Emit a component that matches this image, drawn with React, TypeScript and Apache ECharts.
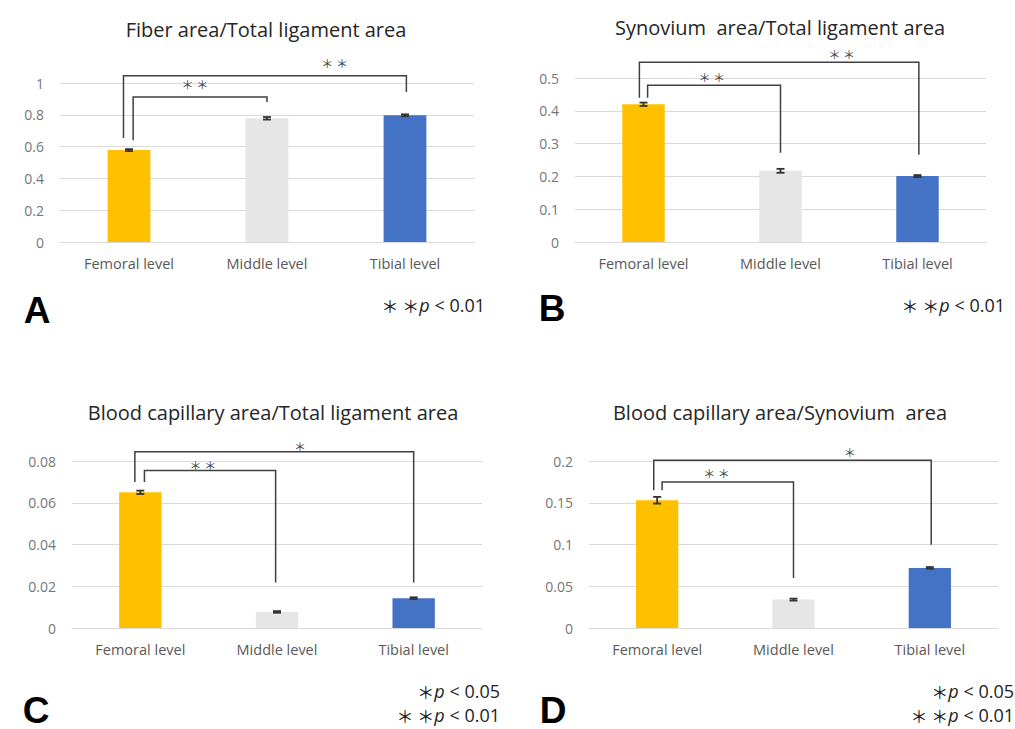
import React, { useEffect, useRef } from "react";
import * as echarts from "echarts";

const CATEGORIES = ["Femoral level", "Middle level", "Tibial level"];
const BAR_COLORS = ["#FFC000", "#E6E6E6", "#4472C4"];

const FIBER_MEANS = [0.578, 0.778, 0.797];
const FIBER_ERRS = [0.006, 0.008, 0.006];
const SYNOVIUM_MEANS = [0.42, 0.217, 0.201];
const SYNOVIUM_ERRS = [0.005, 0.006, 0.003];
const CAP_TOTAL_MEANS = [0.065, 0.0077, 0.0143];
const CAP_TOTAL_ERRS = [0.0008, 0.0004, 0.0004];
const CAP_SYN_MEANS = [0.153, 0.034, 0.072];
const CAP_SYN_ERRS = [0.004, 0.0012, 0.001];

// [xLeft, yLeftEnd, xRight, yRightEnd, yTop, starX, label]
const FIBER_BRACKETS = [
  [-0.04, 0.654, 2.01, 0.943, 1.046, 1.49, "＊ ＊"],
  [0.03, 0.64, 1.0, 0.88, 0.912, 0.478, "＊ ＊"],
];
const SYNOVIUM_BRACKETS = [
  [-0.03, 0.44, 2.01, 0.266, 0.548, 1.447, "＊ ＊"],
  [0.03, 0.44, 1.0, 0.272, 0.478, 0.498, "＊ ＊"],
];
const CAP_TOTAL_BRACKETS = [
  [-0.04, 0.07, 2.0, 0.0218, 0.0844, 1.168, "＊"],
  [0.03, 0.07, 0.99, 0.0218, 0.0754, 0.458, "＊ ＊"],
];
const CAP_SYN_BRACKETS = [
  [-0.025, 0.165, 2.01, 0.0996, 0.201, 1.413, "＊"],
  [0.036, 0.165, 1.0, 0.0598, 0.175, 0.435, "＊ ＊"],
];

const TITLES = [
  "Fiber area/Total ligament area",
  "Synovium  area/Total ligament area",
  "Blood capillary area/Total ligament area",
  "Blood capillary area/Synovium  area",
];
const LETTERS = ["A", "B", "C", "D"];
const Y_MAX = [1, 0.5, 0.08, 0.2];
const Y_INTERVAL = [0.2, 0.1, 0.02, 0.05];
const NOTE_01 = ["＊ ＊", "p", " < 0.01"];
const NOTE_05 = ["＊", "p", " < 0.05"];

const PANELS = [
  { means: FIBER_MEANS, errs: FIBER_ERRS, brackets: FIBER_BRACKETS, grid: { left: 60, top: 83, width: 414, height: 159 }, starOff: 12, titleX: 266, titleY: 29, letterX: 37, letterY: 310, noteX: 485, noteY: 293, notes: [NOTE_01] },
  { means: SYNOVIUM_MEANS, errs: SYNOVIUM_ERRS, brackets: SYNOVIUM_BRACKETS, grid: { left: 575, top: 78, width: 411, height: 164 }, starOff: 8, titleX: 780, titleY: 27, letterX: 552, letterY: 308, noteX: 1005, noteY: 293, notes: [NOTE_01] },
  { means: CAP_TOTAL_MEANS, errs: CAP_TOTAL_ERRS, brackets: CAP_TOTAL_BRACKETS, grid: { left: 72, top: 461, width: 410, height: 167 }, starOff: 5, titleX: 273, titleY: 412, letterX: 36, letterY: 710, noteX: 500, noteY: 679, notes: [NOTE_05, NOTE_01] },
  { means: CAP_SYN_MEANS, errs: CAP_SYN_ERRS, brackets: CAP_SYN_BRACKETS, grid: { left: 589, top: 461, width: 409, height: 167 }, starOff: 8, titleX: 780, titleY: 412, letterX: 553, letterY: 710, noteX: 1014, noteY: 679, notes: [NOTE_05, NOTE_01] },
];

const FONT = "'Open Sans', 'Noto Sans', sans-serif";

export default function App() {
  const ref = useRef<HTMLDivElement>(null);
  useEffect(() => {
    if (!ref.current) return;
    const chart = echarts.init(ref.current, null, { renderer: "svg" });
    const grids: any[] = [];
    const xAxes: any[] = [];
    const yAxes: any[] = [];
    const series: any[] = [];
    const graphics: any[] = [];

    PANELS.forEach((p, i) => {
      grids.push({ ...p.grid, containLabel: false });
      xAxes.push({
        type: "category",
        gridIndex: i,
        data: CATEGORIES,
        axisTick: { show: false },
        axisLine: { show: true, lineStyle: { color: "#d9d9d9", width: 1 } },
        axisLabel: { color: "#595959", fontSize: 14.5, fontFamily: FONT, margin: 14 },
      });
      xAxes.push({ type: "value", gridIndex: i, min: -0.5, max: 2.5, show: false });
      yAxes.push({
        type: "value",
        gridIndex: i,
        min: 0,
        max: Y_MAX[i],
        interval: Y_INTERVAL[i],
        axisLine: { show: false },
        axisTick: { show: false },
        splitLine: { lineStyle: { color: "#d9d9d9", width: 1 } },
        axisLabel: { color: "#767676", fontSize: 14, fontFamily: FONT, margin: 16 },
      });
      series.push({
        type: "bar",
        xAxisIndex: 2 * i,
        yAxisIndex: i,
        barWidth: "31%",
        data: p.means.map((v, k) => ({ value: v, itemStyle: { color: BAR_COLORS[k] } })),
      });
      series.push({
        type: "custom",
        xAxisIndex: 2 * i + 1,
        yAxisIndex: i,
        data: p.means.map((v, k) => [k, v, p.errs[k]]),
        renderItem: (params: any, api: any) => {
          const x = api.value(0), m = api.value(1), e = api.value(2);
          const hi = api.coord([x, m + e]);
          const lo = api.coord([x, m - e]);
          const st = { stroke: "#333", lineWidth: 1.8 };
          return {
            type: "group",
            children: [
              { type: "line", shape: { x1: hi[0], y1: hi[1], x2: lo[0], y2: lo[1] }, style: st },
              { type: "line", shape: { x1: hi[0] - 4, y1: hi[1], x2: hi[0] + 4, y2: hi[1] }, style: st },
              { type: "line", shape: { x1: lo[0] - 4, y1: lo[1], x2: lo[0] + 4, y2: lo[1] }, style: st },
            ],
          };
        },
        z: 5,
      });
      series.push({
        type: "custom",
        xAxisIndex: 2 * i + 1,
        yAxisIndex: i,
        clip: false,
        data: p.brackets.map((b: any) => [b[0], b[4]]),
        renderItem: (params: any, api: any) => {
          const b: any = p.brackets[params.dataIndex];
          const pL = api.coord([b[0], b[1]]);
          const tL = api.coord([b[0], b[4]]);
          const tR = api.coord([b[2], b[4]]);
          const pR = api.coord([b[2], b[3]]);
          const s = api.coord([b[5], b[4]]);
          return {
            type: "group",
            children: [
              { type: "polyline", shape: { points: [pL, tL, tR, pR] }, style: { stroke: "#404040", lineWidth: 1.5, fill: "none" } },
              { type: "text", x: s[0], y: s[1] - p.starOff, style: { text: b[6], fontSize: 12, fill: "#404040", align: "center", verticalAlign: "middle", fontFamily: "'Noto Sans CJK JP', sans-serif" } },
            ],
          };
        },
        z: 6,
      });

      graphics.push({
        type: "text",
        x: p.titleX,
        y: p.titleY,
        style: { text: TITLES[i], fontSize: 20, fill: "#262626", align: "center", verticalAlign: "middle", fontFamily: FONT },
      });
      graphics.push({
        type: "text",
        x: p.letterX,
        y: p.letterY,
        style: { text: LETTERS[i], fontSize: 37, fontWeight: "bold", fill: "#000", align: "center", verticalAlign: "middle", fontFamily: "'Liberation Sans', Arial, sans-serif" },
      });
      graphics.push({
        type: "text",
        x: p.noteX,
        y: p.noteY,
        style: {
          text: p.notes.map((n: any) => `{s|${n[0]}}{p|${n[1]}}{n|${n[2]}}`).join("\n"),
          align: "right",
          verticalAlign: "top",
          rich: {
            s: { fontSize: 17, lineHeight: 24, fill: "#222", fontFamily: "'Noto Sans CJK JP', sans-serif" },
            p: { fontSize: 18, lineHeight: 24, fill: "#222", fontStyle: "italic", fontFamily: FONT },
            n: { fontSize: 18, lineHeight: 24, fill: "#222", fontFamily: FONT },
          },
        },
      });
    });

    chart.setOption({
      animation: false,
      backgroundColor: "#fff",
      grid: grids,
      xAxis: xAxes,
      yAxis: yAxes,
      series,
      graphic: graphics,
    });
    return () => chart.dispose();
  }, []);
  return <div ref={ref} style={{ position: "absolute", left: 0, top: 0, width: 1015, height: 729 }} />;
}
